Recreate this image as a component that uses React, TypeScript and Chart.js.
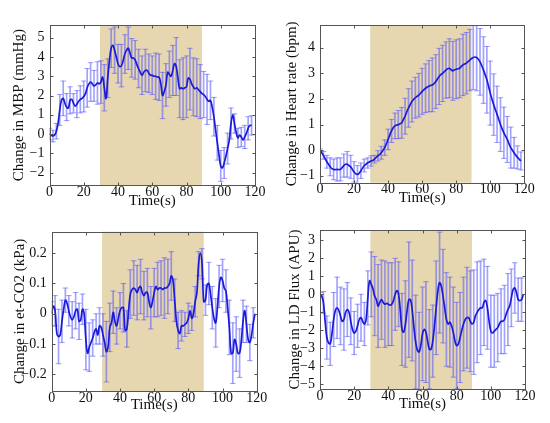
import React, { useEffect, useRef } from "react";
import { Chart, registerables } from "chart.js";

Chart.register(...registerables);
Chart.defaults.font.family = '"Liberation Serif", "Times New Roman", serif';

// ---------- data ----------
const SHADE_START = 29.5;
const SHADE_END = 89;
const X_MIN = 0;
const X_MAX = 120;
const X_STEP = 20;

const secs = [
  0, 1, 2, 3, 4, 5, 6, 7, 8, 9, 10, 11, 12, 13, 14, 15, 16, 17, 18, 19,
  20, 21, 22, 23, 24, 25, 26, 27, 28, 29, 30, 31, 32, 33, 34, 35, 36, 37, 38, 39,
  40, 41, 42, 43, 44, 45, 46, 47, 48, 49, 50, 51, 52, 53, 54, 55, 56, 57, 58, 59,
  60, 61, 62, 63, 64, 65, 66, 67, 68, 69, 70, 71, 72, 73, 74, 75, 76, 77, 78, 79,
  80, 81, 82, 83, 84, 85, 86, 87, 88, 89, 90, 91, 92, 93, 94, 95, 96, 97, 98, 99,
  100, 101, 102, 103, 104, 105, 106, 107, 108, 109, 110, 111, 112, 113, 114, 115, 116, 117, 118, 119,
];

const secs2 = [
  0, 2, 4, 6, 8, 10, 12, 14, 16, 18, 20, 22, 24, 26, 28, 30, 32, 34, 36, 38,
  40, 42, 44, 46, 48, 50, 52, 54, 56, 58, 60, 62, 64, 66, 68, 70, 72, 74, 76, 78,
  80, 82, 84, 86, 88, 90, 92, 94, 96, 98, 100, 102, 104, 106, 108, 110, 112, 114, 116, 118,
];

// Change in MBP (mmHg), 1 s resolution, 0..118 s
const mbpMean = [
  0.0, -0.05, -0.1, -0.05, 0.15, 0.55, 1.25, 1.75, 1.85, 1.6,
  1.4, 1.35, 1.75, 1.8, 1.6, 1.45, 1.55, 1.7, 1.8, 1.85,
  1.95, 2.1, 2.4, 2.6, 2.7, 2.6, 2.5, 2.55, 2.65, 2.6,
  2.7, 2.95, 2.4, 1.85, 2.9, 3.8, 4.45, 4.6, 4.35, 4.0,
  3.65, 3.5, 3.55, 3.8, 4.15, 4.35, 4.45, 4.2, 3.95, 3.95,
  3.85, 3.6, 3.4, 3.2, 3.05, 3.2, 3.3, 3.3, 3.15, 3.05,
  3.05, 3.0, 3.0, 2.95, 2.95, 2.6, 2.0, 2.2, 2.55, 3.2,
  3.1, 3.0, 3.3, 3.65, 3.5, 2.9, 2.35, 2.4, 2.35, 2.4,
  2.45, 2.9, 2.85, 2.6, 2.45, 2.35, 2.4, 2.3, 2.2, 2.1,
  2.05, 1.95, 1.8, 1.7, 1.75, 1.4, 0.9, 0.2, -0.45, -1.1,
  -1.65, -1.75, -1.5, -1.15, -0.75, -0.3, 0.55, 1.0, 0.55, 0.1,
  -0.2, -0.05, -0.15, -0.3, -0.15, 0.05, 0.3, 0.45, 0.45,
];
// half-width of error bars at secs2
const mbpErr = [
  0.3, 0.3, 0.4, 0.8, 0.9, 0.7, 0.7, 0.5, 0.7, 0.7,
  0.8, 1.0, 1.0, 0.8, 1.1, 1.1, 1.2, 1.0, 1.0, 1.2,
  1.0, 1.1, 1.0, 1.1, 1.0, 1.0, 1.0, 1.0, 1.1, 1.0,
  1.0, 1.2, 1.2, 1.2, 1.1, 1.2, 1.3, 1.5, 1.5, 1.6,
  1.6, 1.6, 1.5, 1.5, 1.4, 1.2, 1.3, 1.0, 1.0, 0.9,
  0.8, 0.8, 0.8, 0.8, 0.5, 0.5, 0.5, 0.6, 0.6, 0.5,
];

// Change in Heart rate (bpm), 1 s resolution, 0..118 s
const hrMean = [
  0, -0.1, -0.2, -0.33, -0.45, -0.55, -0.65, -0.72, -0.75, -0.76,
  -0.75, -0.76, -0.75, -0.68, -0.6, -0.55, -0.55, -0.6, -0.65, -0.75,
  -0.85, -0.92, -0.95, -0.9, -0.8, -0.7, -0.6, -0.55, -0.5, -0.46,
  -0.42, -0.4, -0.35, -0.28, -0.22, -0.17, -0.1, 0.0, 0.1, 0.25,
  0.42, 0.6, 0.75, 0.88, 0.95, 0.98, 1.0, 1.03, 1.07, 1.2,
  1.33, 1.5, 1.65, 1.78, 1.9, 1.98, 2.05, 2.1, 2.15, 2.22,
  2.3, 2.36, 2.42, 2.47, 2.5, 2.53, 2.55, 2.6, 2.68, 2.78,
  2.88, 2.95, 3.0, 3.07, 3.13, 3.18, 3.2, 3.14, 3.1, 3.14,
  3.16, 3.18, 3.2, 3.27, 3.33, 3.37, 3.4, 3.46, 3.52, 3.58,
  3.62, 3.64, 3.62, 3.55, 3.45, 3.3, 3.13, 2.95, 2.75, 2.5,
  2.23, 2.0, 1.78, 1.58, 1.4, 1.2, 1.0, 0.83, 0.68, 0.55,
  0.42, 0.25, 0.1, 0.0, -0.1, -0.2, -0.28, -0.35, -0.42,
];
// half-width of error bars at secs2
const hrErr = [
  0.05, 0.15, 0.25, 0.35, 0.4, 0.45, 0.45, 0.45, 0.5, 0.45,
  0.4, 0.35, 0.3, 0.25, 0.2, 0.2, 0.15, 0.2, 0.25, 0.3,
  0.4, 0.45, 0.5, 0.55, 0.6, 0.7, 0.75, 0.8, 0.8, 0.85,
  0.9, 0.95, 1.0, 1.05, 1.05, 1.1, 1.1, 1.1, 1.15, 1.15,
  1.15, 1.15, 1.2, 1.2, 1.2, 1.25, 1.3, 1.3, 1.3, 1.3,
  1.25, 1.2, 1.1, 1.05, 1.0, 0.9, 0.8, 0.6, 0.45, 0.35,
];

// Change in et-CO2 (kPa), 1 s resolution, 0..119 s
const co2Mean = [
  0.0, 0.025, 0.01, -0.065, -0.075, -0.07, -0.025, 0.015, 0.045, 0.035,
  0.01, -0.01, -0.02, -0.01, 0.01, 0.015, -0.025, -0.02, 0.015, 0.0,
  -0.085, -0.13, -0.11, -0.095, -0.08, -0.06, -0.05, -0.07, -0.04, -0.045,
  -0.07, -0.095, -0.125, -0.11, -0.045, -0.03, 0.005, -0.025, -0.04, -0.015,
  0.01, 0.02, 0.02, -0.055, -0.05, 0.01, 0.065, 0.08, 0.085, 0.08,
  0.07, 0.085, 0.09, 0.07, 0.06, 0.07, 0.07, 0.04, 0.02, 0.04,
  0.07, 0.09, 0.08, 0.085, 0.085, 0.08, 0.085, 0.085, 0.09, 0.1,
  0.125, 0.11, 0.045, -0.025, -0.055, -0.065, -0.04, -0.04, -0.035, -0.03,
  -0.015, 0.01, -0.015, 0.0, 0.04, 0.07, 0.165, 0.2, 0.165, 0.04,
  0.045, 0.095, 0.1, 0.065, 0.02, -0.015, -0.03, 0.02, 0.09, 0.12,
  0.11, 0.085, 0.075, 0.02, -0.045, -0.13, -0.13, -0.085, -0.1, -0.13,
  -0.13, -0.09, -0.025, 0.01, -0.035, -0.085, -0.095, -0.07, -0.03, 0.0,
];
// half-width of error bars at secs2
const co2Err = [
  0.04, 0.05, 0.09, 0.07, 0.04, 0.05, 0.06, 0.06, 0.06, 0.05,
  0.1, 0.08, 0.06, 0.05, 0.06, 0.07, 0.1, 0.08, 0.07, 0.06,
  0.06, 0.08, 0.06, 0.08, 0.09, 0.09, 0.09, 0.08, 0.08, 0.07,
  0.08, 0.09, 0.09, 0.1, 0.09, 0.08, 0.07, 0.06, 0.05, 0.04,
  0.05, 0.04, 0.05, 0.04, 0.05, 0.05, 0.07, 0.07, 0.08, 0.07,
  0.07, 0.07, 0.09, 0.1, 0.09, 0.08, 0.07, 0.06, 0.06, 0.05,
];

// Change in LD Flux (APU), 1 s resolution, 0..119 s
const ldMean = [
  0, -0.1, -0.45, -1.5, -2.4, -2.7, -2.75, -2.2, -1.4, -0.9,
  -0.75, -0.9, -1.2, -1.5, -1.4, -1.0, -0.85, -1.0, -1.5, -1.95,
  -2.15, -2.05, -1.75, -1.4, -1.3, -1.5, -1.65, -1.4, -0.2, 0.75,
  0.55, 0.3, -0.1, -0.3, -0.65, -0.45, -0.3, -0.45, -0.55, -0.5,
  -0.55, -0.6, -0.55, -0.35, 0.0, 0.2, 0.0, -0.9, -1.95, -2.1,
  -1.65, -0.9, -0.3, -0.3, -0.9, -1.85, -2.65, -3.1, -3.2, -2.85,
  -2.2, -1.95, -2.1, -2.6, -3.05, -3.05, -2.6, -1.75, -0.75, 0.2,
  0.65, 0.45, -0.1, -0.75, -1.4, -1.65, -1.55, -1.75, -2.1, -2.6,
  -2.85, -2.75, -2.4, -2.0, -1.65, -1.4, -1.3, -1.3, -1.5, -1.65,
  -1.55, -1.2, -1.0, -0.85, -0.75, -0.75, -0.45, -0.35, -0.75, -1.5,
  -2.05, -2.15, -2.05, -1.95, -1.85, -1.65, -1.5, -1.5, -1.4, -1.1,
  -0.85, -0.65, -0.2, 0.25, 0.35, 0.1, -0.3, -0.35, -0.3, 0.0,
];
// half-width of error bars at secs2
const ldErr = [
  0.1, 0.6, 1.2, 1.2, 1.5, 1.7, 1.6, 1.7, 1.5, 1.3,
  1.2, 1.2, 1.3, 1.2, 1.5, 1.8, 2.2, 2.3, 2.2, 2.4,
  2.3, 2.3, 2.0, 1.8, 2.0, 2.4, 3.2, 2.8, 2.6, 2.2,
  2.6, 2.8, 2.2, 2.0, 2.6, 2.8, 2.6, 2.6, 2.5, 2.5,
  2.4, 2.5, 2.6, 2.8, 2.8, 2.9, 2.8, 2.6, 2.4, 2.3,
  2.0, 2.0, 1.9, 1.8, 1.9, 2.0, 1.6, 1.4, 1.2, 1.2,
];

const X_TITLE = "Time(s)";
const Y_TITLES = [
  "Change in MBP (mmHg)",
  "Change in Heart rate (bpm)",
  "Change in et-CO2 (kPa)",
  "Change in LD Flux (APU)",
];

// ---------- styles & layout ----------
const LINE_COLOR = "#1a1ad8";
const ERR_COLOR = "rgba(85, 85, 255, 0.55)";
const SHADE_COLOR = "#e6d7b0";
const FRAME_COLOR = "#555555";
const TEXT_COLOR = "#111111";

type Panel = {
  times: number[];
  mean: number[];
  errTimes: number[];
  err: number[];
  yMin: number;
  yMax: number;
  yStep: number;
  yTitle: string;
};

const panels: Panel[] = [
  { times: secs.slice(0, mbpMean.length), mean: mbpMean, errTimes: secs2, err: mbpErr, yMin: -2.64, yMax: 5.64, yStep: 1, yTitle: Y_TITLES[0] },
  { times: secs.slice(0, hrMean.length), mean: hrMean, errTimes: secs2, err: hrErr, yMin: -1.27, yMax: 4.89, yStep: 1, yTitle: Y_TITLES[1] },
  { times: secs, mean: co2Mean, errTimes: secs2, err: co2Err, yMin: -0.255, yMax: 0.271, yStep: 0.1, yTitle: Y_TITLES[2] },
  { times: secs, mean: ldMean, errTimes: secs2, err: ldErr, yMin: -5.26, yMax: 3.57, yStep: 1, yTitle: Y_TITLES[3] },
];

type Layout = {
  left: number; top: number; width: number; height: number;
  yAxisW: number; padRight: number; padTop: number; xAxisH: number;
  yTitlePad: number; xTitlePad: number;
};

const layouts: Layout[] = [
  { left: 0, top: 0, width: 275, height: 211, yAxisW: 49.5, padRight: 20, padTop: 25.3, xAxisH: 26, yTitlePad: 10, xTitlePad: 1 },
  { left: 275, top: 0, width: 275, height: 211, yAxisW: 45, padRight: 25.7, padTop: 25, xAxisH: 28.3, yTitlePad: 8.5, xTitlePad: 3.7 },
  { left: 0, top: 211, width: 275, height: 212, yAxisW: 51.7, padRight: 18.3, padTop: 20.7, xAxisH: 32, yTitlePad: 10.7, xTitlePad: 9 },
  { left: 275, top: 211, width: 275, height: 212, yAxisW: 45, padRight: 25, padTop: 19, xAxisH: 34, yTitlePad: 10.7, xTitlePad: 9.7 },
];

const fmtTick = (v: number | string) => {
  const n = Number(v);
  const r = Math.round(n * 1000) / 1000;
  const s = Math.abs(r) < 1e-9 ? "0" : String(r);
  return s.replace("-", "\u2212");
};

const framePlugin = {
  id: "matlabFrame",
  beforeDatasetsDraw(chart: any) {
    const { ctx, chartArea: a, scales } = chart;
    const x = scales.x;
    const x0 = x.getPixelForValue(SHADE_START);
    const x1 = x.getPixelForValue(SHADE_END);
    ctx.save();
    ctx.fillStyle = SHADE_COLOR;
    ctx.fillRect(x0, a.top, x1 - x0, a.bottom - a.top);
    ctx.restore();
  },
  afterDatasetsDraw(chart: any) {
    const { ctx, chartArea: a, scales } = chart;
    const x = scales.x;
    const y = scales.y;
    const L = Math.round(a.left) + 0.5;
    const R = Math.round(a.right) + 0.5;
    const T = Math.round(a.top) + 0.5;
    const B = Math.round(a.bottom) + 0.5;
    ctx.save();
    ctx.strokeStyle = FRAME_COLOR;
    ctx.lineWidth = 1;
    ctx.strokeRect(L, T, R - L, B - T);
    const tl = 3;
    ctx.beginPath();
    x.ticks.forEach((t: any) => {
      const px = Math.round(x.getPixelForValue(t.value)) + 0.5;
      ctx.moveTo(px, B); ctx.lineTo(px, B - tl);
      ctx.moveTo(px, T); ctx.lineTo(px, T + tl);
    });
    y.ticks.forEach((t: any) => {
      const py = Math.round(y.getPixelForValue(t.value)) + 0.5;
      ctx.moveTo(L, py); ctx.lineTo(L + tl, py);
      ctx.moveTo(R, py); ctx.lineTo(R - tl, py);
    });
    ctx.stroke();
    ctx.restore();
  },
};

function ChartPanel({ panel, layout }: { panel: Panel; layout: Layout }) {
  const ref = useRef<HTMLCanvasElement | null>(null);

  useEffect(() => {
    const canvas = ref.current;
    if (!canvas) return;
    const lineData = panel.times.map((t, i) => ({ x: t, y: panel.mean[i] }));
    const centerAt = (t: number) => panel.mean[panel.times.indexOf(t)];
    const barData = panel.errTimes.map((t, i) => {
      const c = centerAt(t);
      return { x: t, y: [c - panel.err[i], c + panel.err[i]] };
    });
    const capData: { x: number; y: number }[] = [];
    panel.errTimes.forEach((t, i) => {
      const c = centerAt(t);
      capData.push({ x: t, y: c - panel.err[i] });
      capData.push({ x: t, y: c + panel.err[i] });
    });

    const chart = new Chart(canvas, {
      type: "line",
      data: {
        datasets: [
          {
            type: "line",
            data: lineData,
            borderColor: LINE_COLOR,
            borderWidth: 1.7,
            pointRadius: 0,
            tension: 0.4,
            order: 0,
          } as any,
          {
            type: "bar",
            data: barData,
            backgroundColor: ERR_COLOR,
            borderWidth: 0,
            barThickness: 1,
            order: 1,
          } as any,
          {
            type: "line",
            data: capData,
            showLine: false,
            pointStyle: "line",
            pointRadius: 2.8,
            pointBorderWidth: 1,
            pointBorderColor: ERR_COLOR,
            pointBackgroundColor: ERR_COLOR,
            order: 1,
          } as any,
        ],
      },
      options: {
        responsive: false,
        animation: false,
        events: [],
        layout: { padding: { left: 0, top: layout.padTop, right: layout.padRight, bottom: 0 } },
        plugins: { legend: { display: false }, tooltip: { enabled: false } },
        scales: {
          x: {
            type: "linear",
            min: X_MIN,
            max: X_MAX,
            offset: false,
            grid: { display: false, drawTicks: false },
            border: { display: false },
            ticks: {
              stepSize: X_STEP,
              autoSkip: false,
              maxRotation: 0,
              includeBounds: false,
              padding: 0,
              color: TEXT_COLOR,
              font: { size: 14, lineHeight: 1 },
              callback: (v: any) => fmtTick(v),
            },
            title: {
              display: true,
              text: X_TITLE,
              color: TEXT_COLOR,
              font: { size: 15 },
              padding: { top: 0, bottom: layout.xTitlePad },
            },
            afterFit: (s: any) => { s.height = layout.xAxisH; },
          },
          y: {
            type: "linear",
            min: panel.yMin,
            max: panel.yMax,
            grid: { display: false, drawTicks: false },
            border: { display: false },
            ticks: {
              stepSize: panel.yStep,
              includeBounds: false,
              padding: 5,
              color: TEXT_COLOR,
              font: { size: 14 },
              callback: (v: any) => fmtTick(v),
            },
            title: {
              display: true,
              text: panel.yTitle,
              color: TEXT_COLOR,
              font: { size: 15 },
              padding: { top: layout.yTitlePad, bottom: 0 },
            },
            afterFit: (s: any) => { s.width = layout.yAxisW; },
          },
        },
      } as any,
      plugins: [framePlugin],
    });
    return () => chart.destroy();
  }, [panel, layout]);

  return (
    <canvas
      ref={ref}
      width={layout.width}
      height={layout.height}
      style={{ position: "absolute", left: layout.left, top: layout.top, width: layout.width, height: layout.height }}
    />
  );
}

export default function App() {
  return (
    <div style={{ position: "absolute", left: 0, top: 0, width: 550, height: 423, background: "#ffffff", overflow: "hidden" }}>
      {panels.map((p, i) => (
        <ChartPanel key={i} panel={p} layout={layouts[i]} />
      ))}
    </div>
  );
}
